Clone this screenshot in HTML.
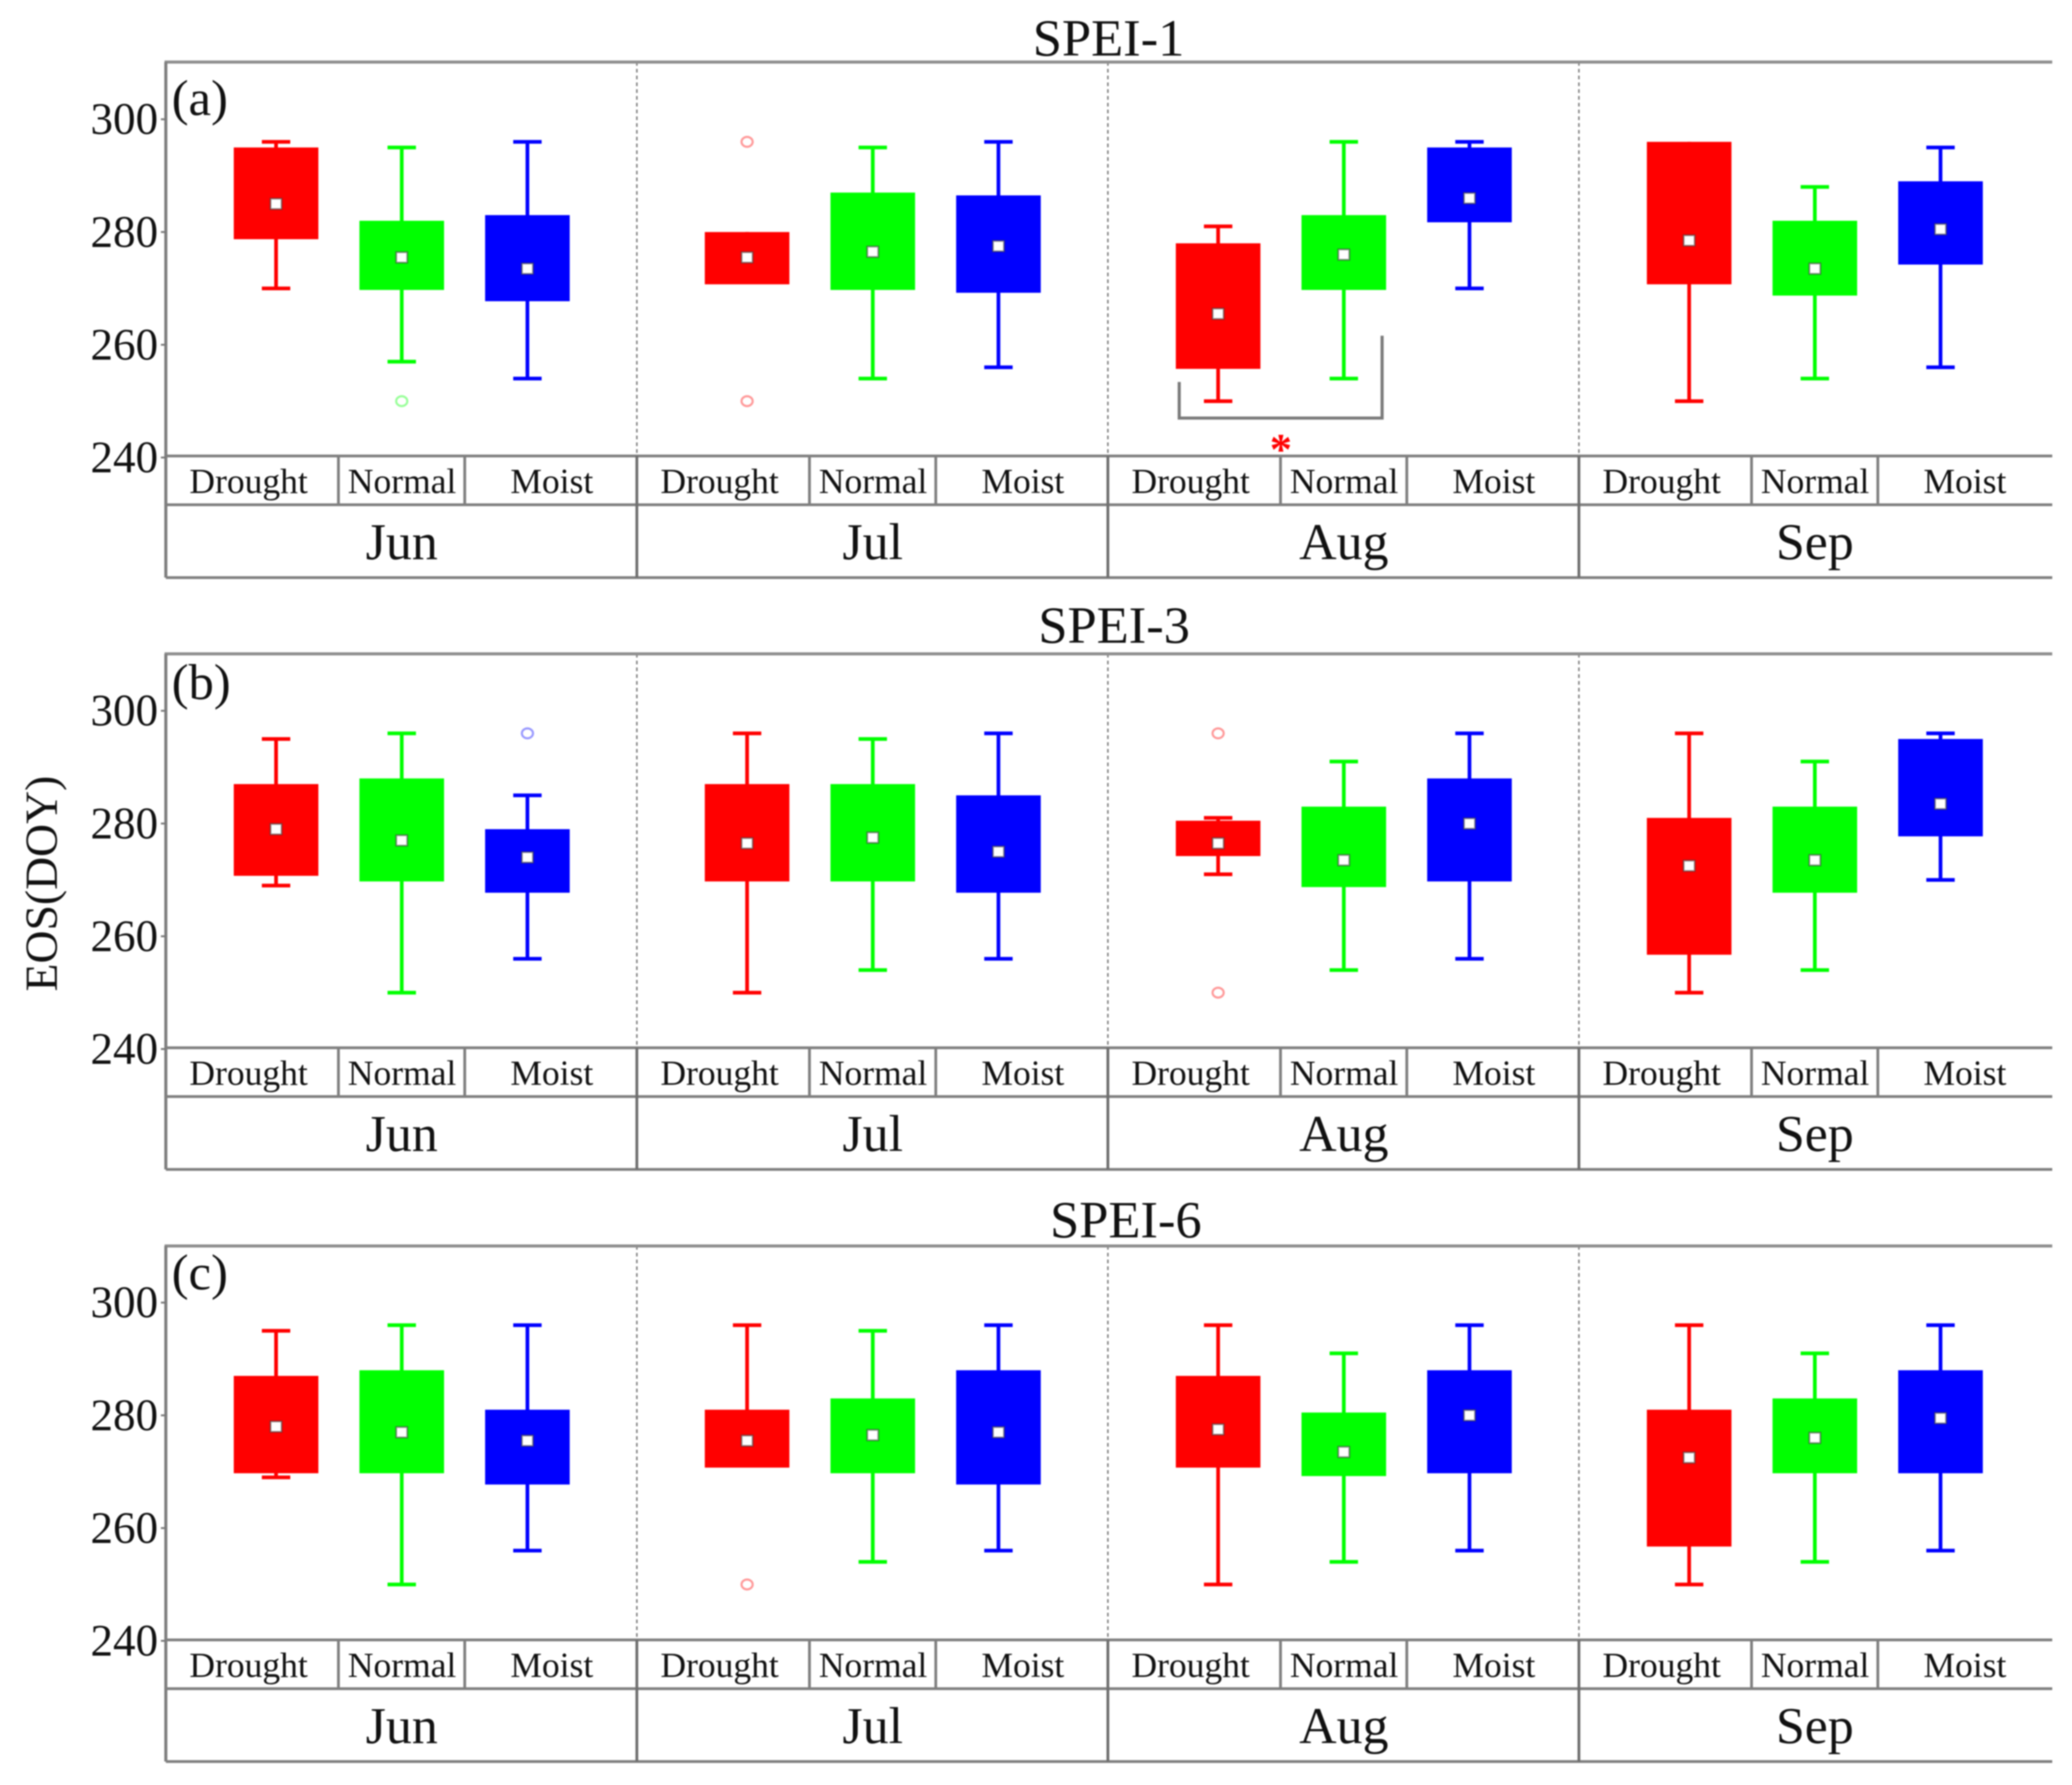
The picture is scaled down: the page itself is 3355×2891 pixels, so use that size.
<!DOCTYPE html>
<html lang="en">
<head>
<meta charset="utf-8">
<title>EOS (DOY) by SPEI class and month</title>
<style>
html,body{margin:0;padding:0;background:#fff;width:3355px;height:2891px;overflow:hidden}
#chart{display:block;filter:blur(1.1px)}
text{font-family:"Liberation Serif",serif;fill:#111111}
</style>
</head>
<body>
<svg id="chart" xmlns="http://www.w3.org/2000/svg" width="3355" height="2891" viewBox="0 0 3355 2891"></svg>
<script>
const months = ['Jun', 'Jul', 'Aug', 'Sep'];
const classes = ['Drought', 'Normal', 'Moist'];
const yTicks = [240, 260, 280, 300];
const panelTitles = ['SPEI-1', 'SPEI-3', 'SPEI-6'];
const panelLetters = ['(a)', '(b)', '(c)'];

const spei1Min = [270, 257, 254, 271, 254, 256, 250, 254, 270, 250, 254, 256];
const spei1Q1 = [279, 270, 268, 271, 270, 269.5, 256, 270, 282, 271, 269, 274.5];
const spei1Med = [285, 275.5, 273.5, 275.5, 276.5, 277.5, 265.5, 276, 286, 278.5, 273.5, 280.5];
const spei1Q3 = [295, 282, 283, 280, 287, 286.5, 278, 283, 295, 296, 282, 289];
const spei1Max = [296, 295, 296, 280, 295, 296, 281, 296, 296, 296, 288, 295];
const spei1Out = [[], [250], [], [296, 250], [], [], [], [], [], [], [], []];

const spei3Min = [269, 250, 256, 250, 254, 256, 271, 254, 256, 250, 254, 270];
const spei3Q1 = [271, 270, 268, 270, 270, 268, 274.5, 269, 270, 257, 268, 278];
const spei3Med = [279, 277, 274, 276.5, 277.5, 275, 276.5, 273.5, 280, 272.5, 273.5, 283.5];
const spei3Q3 = [287, 288, 279, 287, 287, 285, 280.5, 283, 288, 281, 283, 295];
const spei3Max = [295, 296, 285, 296, 295, 296, 281, 291, 296, 296, 291, 296];
const spei3Out = [[], [], [296], [], [], [], [296, 250], [], [], [], [], []];

const spei6Min = [269, 250, 256, 271, 254, 256, 250, 254, 256, 250, 254, 256];
const spei6Q1 = [270, 270, 268, 271, 270, 268, 271, 269.5, 270, 257, 270, 270];
const spei6Med = [278, 277, 275.5, 275.5, 276.5, 277, 277.5, 273.5, 280, 272.5, 276, 279.5];
const spei6Q3 = [287, 288, 281, 281, 283, 288, 287, 280.5, 288, 281, 283, 288];
const spei6Max = [295, 296, 296, 296, 295, 296, 296, 291, 296, 296, 291, 296];
const spei6Out = [[], [], [], [250], [], [], [], [], [], [], [], []];

const panelMins = [spei1Min, spei3Min, spei6Min];
const panelQ1s = [spei1Q1, spei3Q1, spei6Q1];
const panelMeds = [spei1Med, spei3Med, spei6Med];
const panelQ3s = [spei1Q3, spei3Q3, spei6Q3];
const panelMaxs = [spei1Max, spei3Max, spei6Max];
const panelOuts = [spei1Out, spei3Out, spei6Out];

const seriesColors = ['#ff0000', '#00ff00', '#0000ff'];

/* layout */
const svg = document.getElementById('chart');
const NS = 'http://www.w3.org/2000/svg';
const LEFT = 268.5, RIGHT = 3323, MONTH_W = 762.7, PX_PER_UNIT = 9.13;
const baselines = [738.5, 1697, 2656];
const markShift = [2.5, 2, 1.5];
const BOX_PAD = 2.5;
const GRID = '#7f7f7f';
const boxOffsets = [178.5, 382, 585.5];
const labelOffsets = [134, 382.5, 625];
const dividerOffsets = [279.5, 484];
const titleX = [1795, 1804, 1823];
const titleY = [90, 1041, 2004];
const letterY = [186, 1132, 2088];

function yPos(panel, value) { return baselines[panel] + markShift[panel] - (value - 240) * PX_PER_UNIT; }
function monthLeft(m) { return LEFT + m * MONTH_W; }
function xPos(m, c) { return monthLeft(m) + boxOffsets[c]; }

function make(tag, attrs, parent) {
  const el = document.createElementNS(NS, tag);
  for (const k in attrs) el.setAttribute(k, attrs[k]);
  (parent || svg).appendChild(el);
  return el;
}
function line(x1, y1, x2, y2, color, w, parent, dash) {
  const a = { x1: x1, y1: y1, x2: x2, y2: y2, stroke: color, 'stroke-width': w };
  if (dash) a['stroke-dasharray'] = dash;
  return make('line', a, parent);
}
function label(str, x, y, size, anchor, parent) {
  const t = make('text', { x: x, y: y, 'font-size': size, 'text-anchor': anchor }, parent);
  t.textContent = str;
  return t;
}

panelTitles.forEach(function (title, p) {
  const base = baselines[p];
  const top = base - 638;
  const row = base + 79;
  const bottom = base + 197;

  const g = make('g', {});
  
  

  const titleEl = label(title, titleX[p], titleY[p], 85, 'middle', g);
  
  

  const letterEl = label(panelLetters[p], 278, letterY[p], 82, 'start', g);
  
  

  /* month separators in plot area */
  for (let m = 1; m < months.length; m++) {
    const sep = line(monthLeft(m), top, monthLeft(m), base, '#808080', 2.5, g, '6 5');
    
    
  }

  /* frame */
  const frameTop = line(LEFT - 2, top, RIGHT, top, '#8f8f8f', 5, g);
  
  
  const frameLeft = line(LEFT, top, LEFT, bottom, '#7f7f7f', 5, g);
  
  
  const baseLine = line(LEFT, base, RIGHT, base, GRID, 4.5, g);
  
  
  const rowLine = line(LEFT, row, RIGHT, row, GRID, 4.5, g);
  
  
  const bottomLine = line(LEFT, bottom, RIGHT, bottom, GRID, 4.5, g);
  
  

  /* y axis */
  yTicks.forEach(function (tick) {
    const y = yPos(p, tick);
    const tickMark = line(LEFT - 8, y, LEFT, y, '#777777', 3, g);
    
    
    const tickLabel = label(String(tick), 256, y + 24, 73, 'end', g);
    
    
  });

  /* table + boxes */
  months.forEach(function (month, m) {
    const mx = monthLeft(m);
    if (m > 0) {
      const monthDiv = line(mx, base, mx, bottom, '#6e6e6e', 4.5, g);
      
      
    }
    dividerOffsets.forEach(function (d) {
      const cellDiv = line(mx + d, base, mx + d, row, '#7f7f7f', 4.5, g);
      
      
    });
    const monthLabel = label(month, mx + 382, base + 167, 84, 'middle', g);
    
    

    classes.forEach(function (cls, c) {
      const i = m * classes.length + c;
      const x = xPos(m, c);
      const color = seriesColors[c];

      const catLabel = label(cls, mx + labelOffsets[c], base + 60, 57.5, 'middle', g);
      
      

      const box = make('g', {}, g);
      
      

      const vMin = panelMins[p][i];
      const vMax = panelMaxs[p][i];
      const vQ1 = panelQ1s[p][i];
      const vQ3 = panelQ3s[p][i];
      const yMin = yPos(p, vMin);
      const yMax = yPos(p, vMax);
      const yQ1 = yPos(p, vQ1);
      const yQ3 = yPos(p, vQ3);
      const yMed = yPos(p, panelMeds[p][i]);

      const whisker = line(x, yMax, x, yMin, color, 6, box);
      
      
      if (vMax > vQ3) {
        const capTop = line(x - 23, yMax, x + 23, yMax, color, 6, box);
        
        
      }
      if (vMin < vQ1) {
        const capBottom = line(x - 23, yMin, x + 23, yMin, color, 6, box);
        
        
      }

      const rect = make('rect', { x: x - 68.5, y: yQ3, width: 137, height: yQ1 - yQ3 + BOX_PAD, fill: color }, box);
      
      

      const med = make('rect', { x: x - 9, y: yMed - 8.5, width: 18, height: 17, fill: '#ffffff', stroke: 'rgba(60,60,60,0.55)', 'stroke-width': 3 }, box);
      
      

      panelOuts[p][i].forEach(function (v) {
        const o = make('ellipse', { cx: x, cy: yPos(p, v), rx: 9, ry: 8, fill: 'none', stroke: color, 'stroke-opacity': 0.4, 'stroke-width': 3.5 }, box);
        
        
      });
    });
  });
});

/* significance bracket in panel (a), Aug Drought vs Normal */
const bracketLeftTop = 253.4;
const bracketBottom = 247;
const bracketRightTop = 261.6;
const bracket = make('path', {
  d: 'M' + (xPos(2, 0) - 63) + ' ' + yPos(0, bracketLeftTop) +
     ' V' + yPos(0, bracketBottom) +
     ' H' + (xPos(2, 1) + 62) +
     ' V' + yPos(0, bracketRightTop),
  fill: 'none', stroke: '#7a7a7a', 'stroke-width': 5
});



const star = label('*', 2074, 752, 72, 'middle');


star.style.fill = '#ff0000';
star.style.fontWeight = 'bold';

/* shared y axis title */
const yTitle = label('EOS(DOY)', 0, 0, 74, 'middle');
yTitle.setAttribute('transform', 'translate(92 1431) rotate(-90)');


</script>
</body>
</html>
